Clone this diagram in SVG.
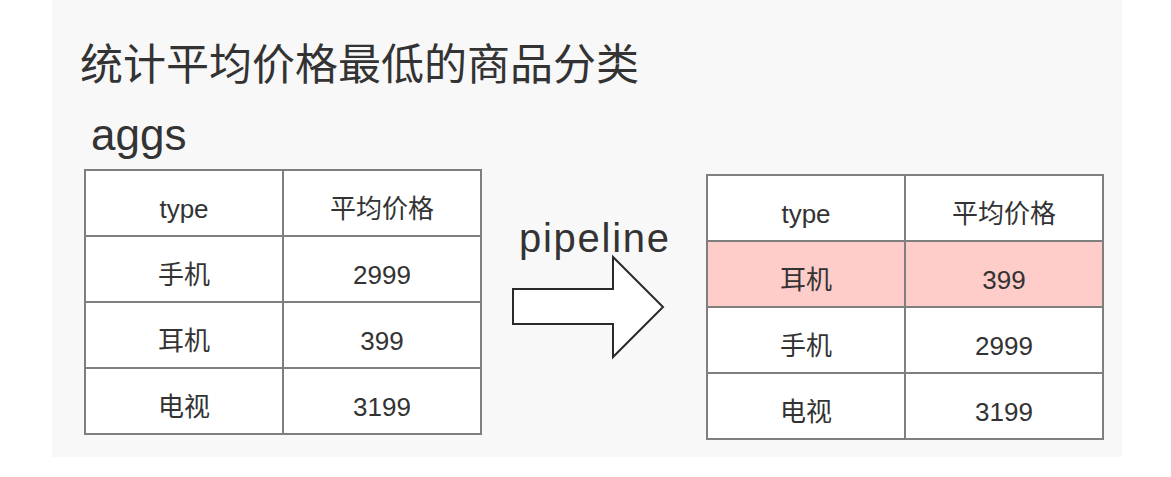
<svg xmlns="http://www.w3.org/2000/svg" width="1171" height="477" viewBox="0 0 1171 477">
<style>
text{font-family:"Liberation Sans","Noto Sans CJK SC",sans-serif;fill:#333;}
.cell{font-size:26px;text-anchor:middle;}
.grid{fill:none;stroke:#7f7f7f;stroke-width:2;}
.bg{fill:#ffffff;}
</style>
<rect x="0" y="0" width="1171" height="477" fill="#ffffff"/>
<rect x="52" y="0" width="1070" height="457" fill="#f8f8f8"/>
<g id="title"><text x="80" y="80" font-size="43">统计平均价格最低的商品分类</text></g>
<g id="aggs-label"><text x="91" y="150" font-size="44">aggs</text></g>
<g id="table-aggs">
<rect class="bg" x="85" y="170" width="396" height="264"/>
<path class="grid" d="M85 170H481V434H85Z M283 170V434 M85 236H481 M85 302H481 M85 368H481"/>
<text class="cell" x="184" y="218">type</text><text class="cell" x="382" y="218">平均价格</text>
<text class="cell" x="184" y="284">手机</text><text class="cell" x="382" y="284">2999</text>
<text class="cell" x="184" y="350">耳机</text><text class="cell" x="382" y="350">399</text>
<text class="cell" x="184" y="416">电视</text><text class="cell" x="382" y="416">3199</text>
</g>
<g id="connectors">
<polygon points="513,289 613,289 613,257 663,307 613,357 613,324 513,324" fill="#ffffff" stroke="#2a2a2a" stroke-width="2"/>
</g>
<g id="pipeline-label"><text x="519" y="252" font-size="40" textLength="150" lengthAdjust="spacing">pipeline</text></g>
<g id="table-result">
<rect class="bg" x="707" y="175" width="396" height="264"/>
<rect x="707" y="241" width="396" height="66" fill="#ffcdc9"/>
<path class="grid" d="M707 175H1103V439H707Z M905 175V439 M707 241H1103 M707 307H1103 M707 373H1103"/>
<text class="cell" x="806" y="223">type</text><text class="cell" x="1004" y="223">平均价格</text>
<text class="cell" x="806" y="289">耳机</text><text class="cell" x="1004" y="289">399</text>
<text class="cell" x="806" y="355">手机</text><text class="cell" x="1004" y="355">2999</text>
<text class="cell" x="806" y="421">电视</text><text class="cell" x="1004" y="421">3199</text>
</g>
</svg>
